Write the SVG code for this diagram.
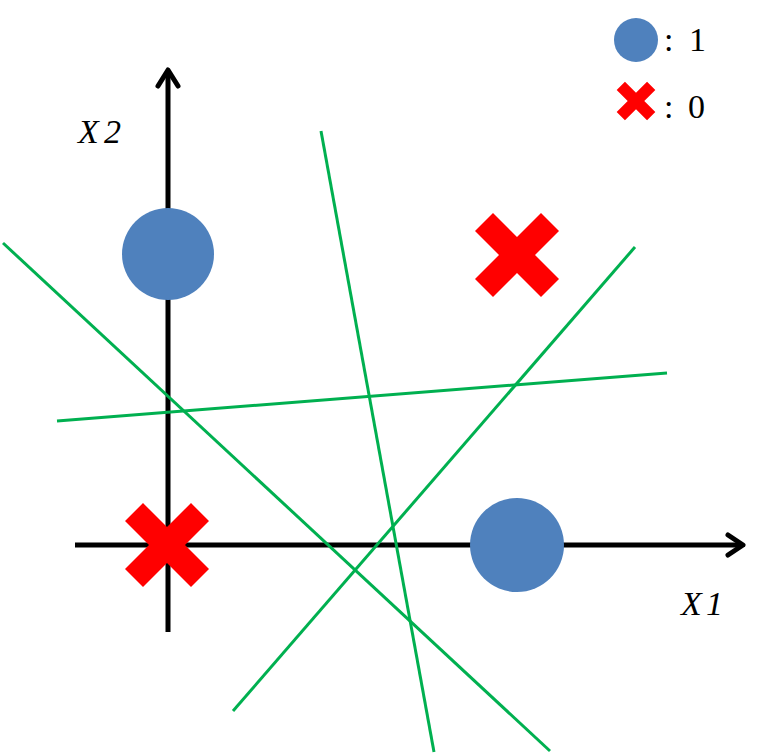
<svg xmlns="http://www.w3.org/2000/svg" width="769" height="755" viewBox="0 0 769 755">
<defs>
<style>
.axis{stroke:#000;stroke-width:5;fill:none}
.head{stroke:#000;stroke-width:5;fill:none;stroke-linecap:round;stroke-linejoin:round}
.sep{stroke:#00B050;stroke-width:3;fill:none}
.one{fill:#4F81BD}
.zero{fill:#FF0000}
.lbl{font-family:"Liberation Serif",serif;font-style:italic;font-size:34px;fill:#000}
.leg{font-family:"Liberation Serif",serif;font-size:34px;fill:#000}
</style>
<polygon id="xshape" points="-42,-24 -24,-42 0,-18 24,-42 42,-24 18,0 42,24 24,42 0,18 -24,42 -42,24 -18,0"/>
</defs>
<rect width="769" height="755" fill="#fff"/>
<g id="axes">
<line class="axis" x1="168" y1="632" x2="168" y2="72"/>
<polyline class="head" points="158,86 168,70 178,86"/>
<line class="axis" x1="75" y1="545" x2="740" y2="545"/>
<polyline class="head" points="728,535 743,545 728,555"/>
</g>
<g id="connectors">
<line class="sep" x1="3" y1="243" x2="550" y2="751"/>
<line class="sep" x1="321" y1="131" x2="434" y2="752"/>
<line class="sep" x1="57" y1="421" x2="667" y2="373"/>
<line class="sep" x1="233" y1="711" x2="635" y2="247"/>
</g>
<g id="point-a"><circle class="one" cx="168" cy="254" r="46"/></g>
<g id="point-b"><circle class="one" cx="517" cy="545" r="47"/></g>
<g id="point-c"><use href="#xshape" class="zero" transform="translate(167,545)"/></g>
<g id="point-d"><use href="#xshape" class="zero" transform="translate(517,255)"/></g>
<g id="label-x2"><text class="lbl" x="78" y="143"><tspan>X</tspan><tspan x="104">2</tspan></text></g>
<g id="label-x1"><text class="lbl" x="681" y="615"><tspan>X</tspan><tspan x="706">1</tspan></text></g>
<g id="legend">
<circle class="one" cx="636" cy="40" r="22"/>
<text class="leg" x="664" y="51"><tspan>:</tspan><tspan x="689">1</tspan></text>
<use href="#xshape" class="zero" transform="translate(636,101) scale(0.46)"/>
<text class="leg" x="664" y="118"><tspan>:</tspan><tspan x="688">0</tspan></text>
</g>
</svg>
